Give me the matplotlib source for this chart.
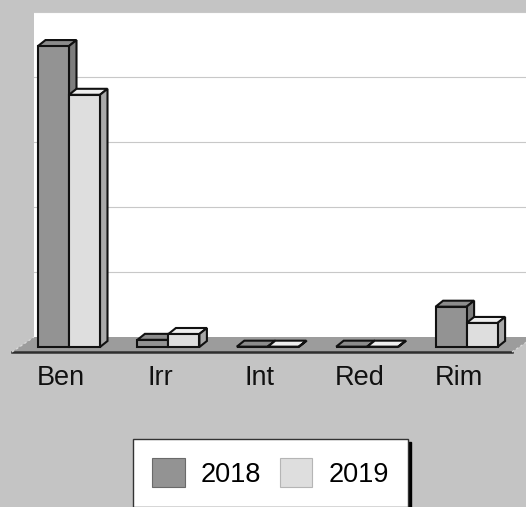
import matplotlib
matplotlib.use('Agg')
import matplotlib.pyplot as plt
from matplotlib.patches import Polygon, Patch, Rectangle

plt.rcParams['font.family'] = ['Liberation Sans', 'DejaVu Sans']

categories = ['Ben', 'Irr', 'Int', 'Red', 'Rim']
years = ['2018', '2019']
values_2018 = [46.3, 1.1, 0.05, 0.05, 6.2]
values_2019 = [38.8, 2.0, 0.05, 0.05, 3.7]

# colours per series: front, side, top
faces = {
    '2018': ('#939393', '#7d7d7d', '#8c8c8c'),
    '2019': ('#dedede', '#a9a9a9', '#efefef'),
}

W, H = 526, 507
X0, STEP = 69.0, 99.4      # px of first category centre, px per category
Y0, UNIT = 347.0, 6.5      # px of bar baseline, px per value unit


def px_x(p):
    return (p - X0) / STEP


def px_y(p):
    return (Y0 - p) / UNIT


fig = plt.figure(figsize=(W / 100, H / 100), dpi=100)
fig.patch.set_facecolor('#c4c4c4')
ax = fig.add_axes([0, 0, 1, 1])
ax.set_xlim(px_x(0), px_x(W))
ax.set_ylim(px_y(H), px_y(0))
ax.axis('off')

# depth of bars and of floor, in data units
ddx, ddy = 7.5 / STEP, 6.0 / UNIT
floor_front = px_y(352)
floor_back = px_y(337)
fdx = 22 / STEP
fl, fr = px_x(12), px_x(512)

# back wall + gridlines
ax.add_patch(Rectangle((fl + fdx, floor_back), px_x(W + 5) - (fl + fdx), 50,
                       facecolor='white', edgecolor='none', zorder=0))
for k in range(1, 6):
    ax.plot([fl + fdx, px_x(W + 5)], [floor_back + 10 * k] * 2,
            color='#c8c8c8', lw=0.8, zorder=0.5)

# floor
ax.add_patch(Polygon([(fl, floor_front), (fr, floor_front),
                      (fr + fdx, floor_back), (fl + fdx, floor_back)],
                     closed=True, facecolor='#9c9c9c', edgecolor='none', zorder=1))
ax.plot([fl, fr], [floor_front] * 2, color='#2e2e2e', lw=1.8, zorder=1.5)
ax.plot([fl, fl + fdx], [floor_front, floor_back], color='#dadada', lw=0.9,
        ls=(0, (2, 2)), zorder=1.5)
ax.plot([fr, fr + fdx], [floor_front, floor_back], color='#dadada', lw=0.9,
        ls=(0, (2, 2)), zorder=1.5)

bw = 31 / STEP
for j, (yr, vals) in enumerate(zip(years, [values_2018, values_2019])):
    front, side, top = faces[yr]
    z = 3 + j
    xs = [i - bw + j * bw for i in range(len(categories))]
    ax.bar(xs, vals, width=bw, align='edge', color=front, edgecolor='#111111',
           linewidth=1.5, zorder=z + 0.2)
    for x, h in zip(xs, vals):
        ax.add_patch(Polygon([(x, h), (x + bw, h), (x + bw + ddx, h + ddy), (x + ddx, h + ddy)],
                             closed=True, facecolor=top, edgecolor='#111111',
                             linewidth=1.5, joinstyle='miter', zorder=z))
        ax.add_patch(Polygon([(x + bw, 0), (x + bw + ddx, ddy), (x + bw + ddx, h + ddy), (x + bw, h)],
                             closed=True, facecolor=side, edgecolor='#111111',
                             linewidth=1.5, joinstyle='miter', zorder=z))

for i, c in enumerate(categories):
    ax.text(i - 8 / STEP, px_y(385), c, ha='center', va='baseline',
            fontsize=19.5, color='#111111')

handles = [Patch(facecolor=faces['2018'][0], edgecolor='#6a6a6a', linewidth=0.8),
           Patch(facecolor=faces['2019'][0], edgecolor='#b5b5b5', linewidth=0.8)]
leg = fig.legend(handles, years, loc='center', bbox_to_anchor=(270.5 / W, 1 - 473 / H),
                 ncol=2, fontsize=19.5, frameon=True, fancybox=False,
                 shadow={'color': 'black', 'alpha': 1},
                 handlelength=1.2, handleheight=1.25, handletextpad=0.6,
                 columnspacing=0.68, borderpad=0.72)
leg.get_frame().set_edgecolor('#333333')
leg.get_frame().set_linewidth(1.0)
leg.get_frame().set_facecolor('white')

fig.savefig('out.png', dpi=100, facecolor=fig.get_facecolor())
